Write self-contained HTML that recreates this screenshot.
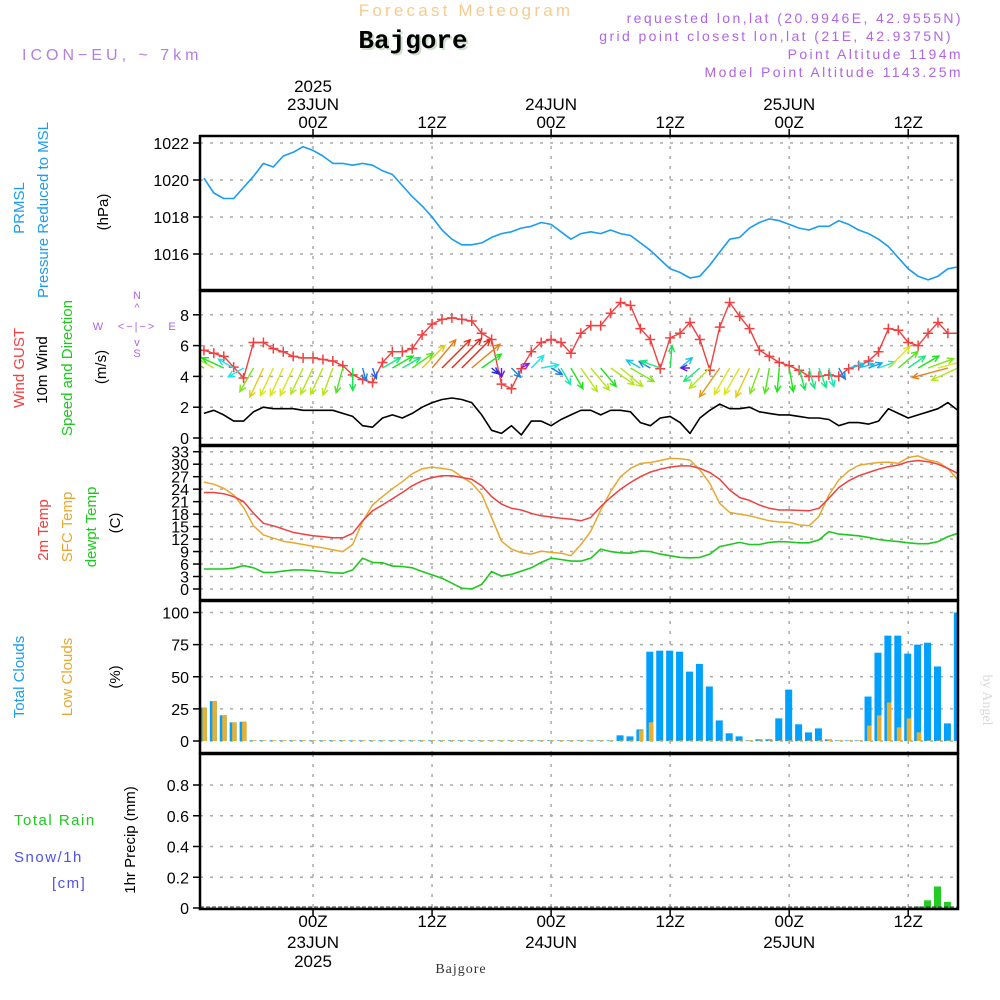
<!DOCTYPE html>
<html><head><meta charset="utf-8"><style>
html,body{margin:0;padding:0;background:#fff;}
svg{display:block;font-family:"Liberation Sans",sans-serif;}
</style></head><body>
<svg id="chart" width="1000" height="1000" viewBox="0 0 1000 1000" xmlns="http://www.w3.org/2000/svg">
<g>
<text x="466" y="16" text-anchor="middle" font-size="17" fill="#f5cc8e" letter-spacing="3.2">Forecast Meteogram</text>
<text x="415" y="50" text-anchor="middle" font-size="26" font-weight="bold" font-family="Liberation Mono,monospace" fill="#cfe0cf">Bajgore</text>
<text x="413" y="48" text-anchor="middle" font-size="26" font-weight="bold" font-family="Liberation Mono,monospace" fill="#000">Bajgore</text>
<text x="22" y="60" font-size="16" fill="#b47ee6" letter-spacing="4">ICON−EU, ~ 7km</text>
<g font-size="14" fill="#b065e6" text-anchor="end" letter-spacing="2.4">
<text x="963" y="23">requested lon,lat (20.9946E, 42.9555N)</text>
<text x="953" y="41">grid point closest lon,lat (21E, 42.9375N)</text>
<text x="963" y="59">Point Altitude 1194m</text>
<text x="963" y="77">Model Point Altitude 1143.25m</text>
</g>
</g>
<g id="left-labels" font-size="15">
<text transform="translate(24,208) rotate(-90)" text-anchor="middle" fill="#1a9cf0">PRMSL</text>
<text transform="translate(48,210) rotate(-90)" text-anchor="middle" fill="#1a9cf0">Pressure Reduced to MSL</text>
<text transform="translate(108,212) rotate(-90)" text-anchor="middle" fill="#000">(hPa)</text>
<text transform="translate(24,368) rotate(-90)" text-anchor="middle" fill="#f04040">Wind GUST</text>
<text transform="translate(47,370) rotate(-90)" text-anchor="middle" fill="#000">10m Wind</text>
<text transform="translate(72,368) rotate(-90)" text-anchor="middle" fill="#1ec81e">Speed and Direction</text>
<text transform="translate(106,367) rotate(-90)" text-anchor="middle" fill="#000">(m/s)</text>
<g font-size="11" fill="#b065e6">
<text x="137" y="299" text-anchor="middle">N</text>
<text x="137" y="311" text-anchor="middle">^</text>
<text x="98" y="330" text-anchor="middle">W</text>
<text x="137" y="330" text-anchor="middle" letter-spacing="2">&lt;−|−&gt;</text>
<text x="172" y="330" text-anchor="middle">E</text>
<text x="137" y="346" text-anchor="middle">v</text>
<text x="137" y="357" text-anchor="middle">S</text>
</g>
<text transform="translate(48,530) rotate(-90)" text-anchor="middle" fill="#f04040">2m Temp</text>
<text transform="translate(72,527) rotate(-90)" text-anchor="middle" fill="#e8a830">SFC Temp</text>
<text transform="translate(96,527) rotate(-90)" text-anchor="middle" fill="#1ec81e">dewpt Temp</text>
<text transform="translate(120,523) rotate(-90)" text-anchor="middle" fill="#000">(C)</text>
<text transform="translate(24,677) rotate(-90)" text-anchor="middle" fill="#1a9cf0">Total Clouds</text>
<text transform="translate(72,677) rotate(-90)" text-anchor="middle" fill="#e8a830">Low Clouds</text>
<text transform="translate(120,677) rotate(-90)" text-anchor="middle" fill="#000">(%)</text>
<text x="14" y="825" fill="#1ec81e" letter-spacing="1.5">Total  Rain</text>
<text x="14" y="862" fill="#5050f0" letter-spacing="1.5">Snow/1h</text>
<text x="52" y="888" fill="#5050f0" letter-spacing="1.5">[cm]</text>
<text transform="translate(135,840) rotate(-90)" text-anchor="middle" fill="#000">1hr Precip (mm)</text>
</g>
<text transform="translate(983,700) rotate(90)" text-anchor="middle" font-size="14" font-family="Liberation Serif,serif" fill="#d8d8d8">by Angel</text>
<text x="461" y="973" text-anchor="middle" font-size="14" font-family="Liberation Serif,serif" fill="#333" letter-spacing="1">Bajgore</text>
</svg>
<script>
const pressure=[1020.1,1019.3,1019.0,1019.0,1019.6,1020.2,1020.9,1020.7,1021.3,1021.5,1021.8,1021.6,1021.3,1020.9,1020.9,1020.8,1020.9,1020.8,1020.5,1020.3,1019.7,1019.1,1018.6,1018.0,1017.3,1016.8,1016.5,1016.5,1016.6,1016.9,1017.1,1017.2,1017.4,1017.5,1017.7,1017.6,1017.2,1016.8,1017.1,1017.2,1017.1,1017.3,1017.1,1017.0,1016.6,1016.2,1015.7,1015.2,1015.0,1014.7,1014.8,1015.4,1016.1,1016.8,1016.9,1017.4,1017.7,1017.9,1017.8,1017.6,1017.4,1017.3,1017.5,1017.5,1017.8,1017.6,1017.3,1017.1,1016.8,1016.4,1015.8,1015.2,1014.8,1014.6,1014.8,1015.2,1015.3];
const gust=[5.7,5.5,5.3,4.6,3.9,6.2,6.2,5.8,5.6,5.3,5.2,5.2,5.1,5.0,4.7,4.1,3.8,3.6,4.9,5.6,5.6,5.8,6.7,7.4,7.7,7.8,7.7,7.6,6.8,6.4,3.5,3.2,4.5,5.6,6.2,6.4,6.2,5.5,6.8,7.3,7.3,8.1,8.8,8.6,7.1,6.4,4.5,6.5,6.8,7.5,6.4,4.4,7.2,8.8,7.9,7.1,5.7,5.3,4.9,4.7,4.4,4.0,4.0,4.1,4.0,4.5,4.7,5.0,5.6,7.1,7.0,6.2,6.0,6.8,7.5,6.8,6.8];
const wind=[1.6,1.8,1.5,1.1,1.1,1.7,2.0,1.9,1.9,1.9,1.8,1.8,1.8,1.8,1.6,1.4,0.8,0.7,1.3,1.5,1.3,1.6,2.0,2.3,2.5,2.6,2.5,2.3,1.5,0.5,0.3,0.8,0.2,1.1,1.1,0.8,1.2,1.5,1.8,1.8,1.5,1.8,1.8,1.7,1.0,0.8,1.3,1.4,1.0,0.3,1.3,1.8,2.2,1.9,1.9,2.0,1.7,1.6,1.5,1.5,1.4,1.3,1.3,1.2,0.8,1.0,1.0,0.9,1.1,1.9,1.6,1.3,1.5,1.7,1.9,2.3,1.8];
const windDir=[300,300,295,300,240,210,205,205,205,205,205,205,205,200,195,180,165,160,60,60,60,55,45,40,45,45,45,50,55,130,180,135,60,45,80,120,150,150,145,140,140,125,130,120,300,300,290,5,50,270,230,225,215,210,210,205,200,190,185,170,165,165,160,165,150,75,75,70,70,45,50,55,60,70,75,255,245];
const t2m=[23.2,23.2,22.9,22.2,21.0,18.2,15.8,15.2,14.4,13.6,13.2,12.8,12.6,12.3,12.3,13.4,16.4,18.8,20.2,21.7,23.2,24.8,26.0,26.8,27.2,27.2,26.8,26.4,24.8,22.2,20.4,19.4,19.0,18.2,17.6,17.3,17.0,16.8,16.4,17.2,19.8,22.0,24.0,25.6,27.0,28.1,28.8,29.3,29.6,29.6,29.0,28.0,26.4,23.8,22.0,21.3,20.2,19.4,19.0,19.0,18.9,18.8,19.4,21.8,24.4,26.0,27.2,28.0,28.8,29.4,29.8,30.6,30.9,30.6,30.0,29.0,27.8];
const tsfc=[25.7,25.2,24.2,22.6,19.6,15.2,13.0,12.2,11.5,11.1,10.7,10.3,9.9,9.4,9.0,10.7,16.2,20.2,22.2,24.1,25.8,27.7,28.9,29.3,29.0,28.6,27.0,25.4,22.8,17.2,11.5,9.6,8.7,8.4,9.1,8.8,8.6,8.0,10.7,13.9,19.0,23.4,27.0,29.0,30.2,30.4,30.9,31.4,31.3,31.0,28.6,25.4,20.6,18.4,18.0,17.6,17.0,16.4,16.1,16.0,15.4,15.2,17.4,22.6,26.2,28.4,29.7,30.1,30.4,30.5,30.2,31.6,32.0,31.0,30.5,29.0,26.2];
const tdew=[4.8,4.8,4.8,5.0,5.6,5.1,4.0,4.0,4.3,4.6,4.6,4.4,4.2,3.9,3.8,4.6,7.4,6.4,6.3,5.5,5.4,5.1,4.2,3.4,2.6,1.4,0.2,0.0,1.1,4.2,3.1,3.5,4.3,5.1,6.4,7.4,7.1,6.7,6.7,7.4,9.6,9.0,8.7,8.6,9.1,9.0,8.4,8.0,7.6,7.5,7.6,8.4,10.2,10.7,11.2,10.7,10.7,11.2,11.4,11.3,11.1,11.1,11.8,13.8,13.2,13.0,12.8,12.4,11.9,11.6,11.4,11.1,10.9,10.9,11.4,12.6,13.4];
const cloudTotal=[26,31,20,14.5,15,0.5,0.5,0.5,0.5,0.5,0.5,0.5,0.5,0.5,0.5,0.5,0.5,0.5,0.5,0.5,0.5,0.5,0.5,0.5,0.5,0.5,0.5,0.5,0.5,0.5,0.5,0.5,0.5,0.5,0.5,0.5,0.5,0.5,0.5,0.5,0.5,0.5,4.4,3.6,9,69.5,70.3,70.3,69.5,54,60,42.4,16,6,3.6,0.5,1.3,1.3,17.6,40,13,6.7,9.8,1.3,0.5,0.5,0.5,34.6,68.7,82,82,68,75,76.5,58,13.7,100];
const cloudLow=[26,31,20,14.5,15,0.5,0.5,0.5,0.5,0.5,0.5,0.5,0.5,0.5,0.5,0.5,0.5,0.5,0.5,0.5,0.5,0.5,0.5,0.5,0.5,0.5,0.5,0.5,0.5,0.5,0.5,0.5,0.5,0.5,0.5,0.5,0.5,0.5,0.5,0.5,0.5,0.5,0.5,0.5,8.3,14.5,0.5,0.5,0.5,0.5,0.5,0.5,0.5,0.5,0.5,0.5,0.5,0.5,0.5,0.5,0.5,0.5,0.5,1.3,0.5,0.5,0.5,12,20,30,10.6,17.6,6.7,0.5,0.5,0.5,0.5];
const precip=[0,0,0,0,0,0,0,0,0,0,0,0,0,0,0,0,0,0,0,0,0,0,0,0,0,0,0,0,0,0,0,0,0,0,0,0,0,0,0,0,0,0,0,0,0,0,0,0,0,0,0,0,0,0,0,0,0,0,0,0,0,0,0,0,0,0,0,0,0,0,0,0,0.01,0.05,0.14,0.04,0];
const pTicks=[1016,1018,1020,1022];
const wTicks=[0,2,4,6,8];
const tTicks=[0,3,6,9,12,15,18,21,24,27,30,33];
const cTicks=[0,25,50,75,100];
const rTicks=[0,0.2,0.4,0.6,0.8];
const timeTicks=[{h:11,t:"00Z",d:"23JUN",y:"2025"},{h:23,t:"12Z"},{h:35,t:"00Z",d:"24JUN"},{h:47,t:"12Z"},{h:59,t:"00Z",d:"25JUN"},{h:71,t:"12Z"}];

const NS="http://www.w3.org/2000/svg";
const svg=document.getElementById('chart');
const X0=200,X1=958;
function xs(i){return 203.9+i*9.92;}
function mk(tag,attrs,parent){const e=document.createElementNS(NS,tag);for(const k in attrs)e.setAttribute(k,attrs[k]);(parent||svg).appendChild(e);return e;}
const panels=[
 {name:'pressure',top:136,bot:290,y:v=>254-(v-1016)*18.5,ticks:pTicks,fmt:v=>v},
 {name:'wind',top:291,bot:445,y:v=>438-v*15.4,ticks:wTicks,fmt:v=>v},
 {name:'temperature',top:446,bot:600,y:v=>589-v*4.16,ticks:tTicks,fmt:v=>v},
 {name:'clouds',top:601,bot:753,y:v=>741-v*1.285,ticks:cTicks,fmt:v=>v},
 {name:'precip',top:754,bot:909,y:v=>908-v*153.75,ticks:rTicks,fmt:v=>v===0?'0':v.toFixed(1)}
];
panels.forEach(p=>{
 const g=mk('g',{});
 
 
 const clip=mk('clipPath',{id:'clip-'+p.name},g);
 mk('rect',{x:X0,y:p.top,width:X1-X0,height:p.bot-p.top},clip);
 p.g=g;
 p.ticks.forEach(v=>{
  const y=p.y(v);
  const gl=mk('line',{x1:X0,x2:X1,y1:y,y2:y,stroke:'#aaa','stroke-width':1.5,'stroke-dasharray':'3 7'},g);
  
  
  mk('line',{x1:193,x2:200,y1:y,y2:y,stroke:'#000','stroke-width':1.5},g);
  const t=mk('text',{x:189,y:y+6,'text-anchor':'end','font-size':16,fill:'#000'},g);
  t.textContent=p.fmt(v);
  
  
 });
 timeTicks.forEach(tt=>{
  const x=xs(tt.h);
  const vl=mk('line',{x1:x,x2:x,y1:p.top,y2:p.bot,stroke:'#aaa','stroke-width':1.5,'stroke-dasharray':'3 7'},g);
  
  
 });
 p.cg=mk('g',{'clip-path':'url(#clip-'+p.name+')'},g);
});
function line(p,arr,color,name,w){
 const d=arr.map((v,i)=>(i?'L':'M')+xs(i).toFixed(1)+' '+p.y(v).toFixed(1)).join(' ');
 const e=mk('path',{d:d,fill:'none',stroke:color,'stroke-width':w||1.6,'stroke-linejoin':'round'},p.cg);
 
 
}
line(panels[0],pressure,'#1a9cf0','pressure-line',1.6);
const pw=panels[1];
line(pw,gust,'#f04040','gust-line',1.4);
gust.forEach((v,i)=>{
 const x=xs(i),y=pw.y(v);
 const m=mk('path',{d:`M${x-5} ${y}H${x+5}M${x} ${y-5}V${y+5}`,stroke:'#f04040','stroke-width':1.5},pw.cg);
 
 
});
line(pw,wind,'#000','wind-speed-line',1.6);
const hueStops=[[0.2,275],[0.5,235],[0.8,210],[1.1,180],[1.5,120],[1.8,75],[2.0,52],[2.3,30],[2.5,5],[3,0]];
function hueFor(s){
 if(s<=hueStops[0][0])return hueStops[0][1];
 for(let k=1;k<hueStops.length;k++){const a=hueStops[k-1],b=hueStops[k];if(s<=b[0])return a[1]+(b[1]-a[1])*(s-a[0])/(b[0]-a[0]);}
 return 0;
}
windDir.forEach((dir,i)=>{
 const s=wind[i];
 const len=Math.max(9,s*16);
 const a=dir*Math.PI/180;
 const x=xs(i),y=368;
 const x2=x+Math.sin(a)*len,y2=y-Math.cos(a)*len;
 const col=`hsl(${hueFor(s)},80%,50%)`;
 const ha1=a+Math.PI-0.45,ha2=a+Math.PI+0.45;
 const d=`M${x} ${y}L${x2} ${y2}M${x2+Math.sin(ha1)*7} ${y2-Math.cos(ha1)*7}L${x2} ${y2}L${x2+Math.sin(ha2)*7} ${y2-Math.cos(ha2)*7}`;
 const e=mk('path',{d:d,stroke:col,'stroke-width':1.4,fill:'none'},pw.cg);
 
 
});
const pt=panels[2];
line(pt,tsfc,'#e8a830','sfc-temp-line',1.5);
line(pt,t2m,'#f04040','temp-2m-line',1.5);
line(pt,tdew,'#1ec81e','dewpoint-line',1.6);
const pc=panels[3];
cloudTotal.forEach((v,i)=>{
 const x=xs(i)-4,y=pc.y(v);
 const b=mk('rect',{x:x,y:y,width:7,height:pc.y(0)-y,fill:'#00a0ff'},pc.cg);
 
 
 const l=cloudLow[i],yl=pc.y(l);
 const o=mk('rect',{x:x+2.5,y:yl,width:4.5,height:pc.y(0)-yl,fill:'#e8b030'},pc.cg);
 
 
});
const pr=panels[4];
precip.forEach((v,i)=>{
 if(v<=0)return;
 const x=xs(i)-4,y=pr.y(v);
 const b=mk('rect',{x:x,y:y,width:7,height:pr.y(0)-y,fill:'#22cc22'},pr.cg);
 
 
});
mk('line',{x1:X0,x2:X1,y1:907,y2:907,stroke:'#333','stroke-width':1,'stroke-dasharray':'4 2'},pr.cg);
panels.forEach(p=>{
 const r=mk('rect',{x:X0,y:p.top,width:X1-X0,height:p.bot-p.top,fill:'none',stroke:'#000','stroke-width':2.5},p.g);
 
 
});
timeTicks.forEach(tt=>{
 const x=xs(tt.h);
 mk('line',{x1:x,x2:x,y1:129,y2:136,stroke:'#000','stroke-width':1.5});
 mk('line',{x1:x,x2:x,y1:909,y2:916,stroke:'#000','stroke-width':1.5});
 const rows=[[128,tt.t],[110,tt.d],[92,tt.y]];
 rows.forEach(r=>{if(!r[1])return;
  const t=mk('text',{x:x,y:r[0],'text-anchor':'middle','font-size':17,fill:'#000'});
  t.textContent=r[1];
  
  
 });
 const rows2=[[927,tt.t],[948,tt.d],[967,tt.y]];
 rows2.forEach(r=>{if(!r[1])return;
  const t=mk('text',{x:x,y:r[0],'text-anchor':'middle','font-size':17,fill:'#000'});
  t.textContent=r[1];
  
  
 });
});
</script>
</body></html>
